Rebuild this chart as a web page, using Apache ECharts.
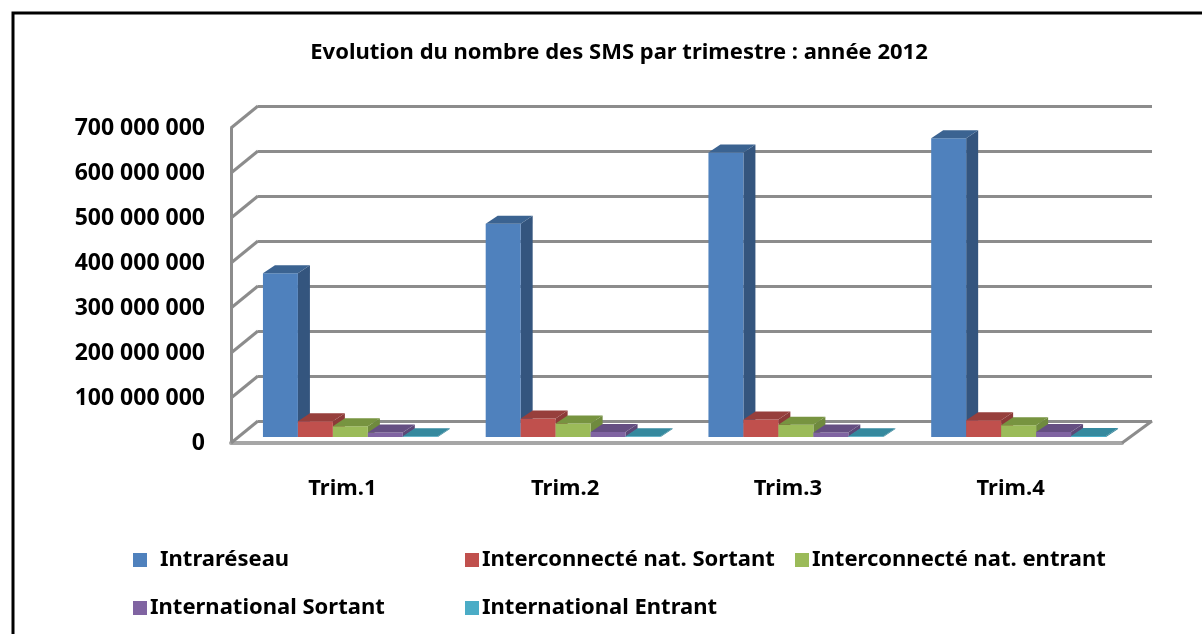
<!DOCTYPE html>
<html>
<head>
<meta charset="utf-8">
<script src="https://cdn.jsdelivr.net/npm/echarts@6/dist/echarts.min.js"></script>
<style>
  html, body { margin: 0; padding: 0; background: #fff; }
  #chart { width: 1202px; height: 634px; }
</style>
</head>
<body>
<div id="chart"></div>
<script>
// données (SMS par trimestre, 2012)
const categories = ['Trim.1', 'Trim.2', 'Trim.3', 'Trim.4'];
const intrareseau = [364000000, 474000000, 632000000, 664000000];
const interNatSortant = [35000000, 41000000, 39000000, 37000000];
const interNatEntrant = [24000000, 30000000, 27000000, 26000000];
const internationalSortant = [10000000, 11000000, 10000000, 11000000];
const internationalEntrant = [1500000, 1500000, 1500000, 2000000];
const yTicks = [0, 100000000, 200000000, 300000000, 400000000, 500000000, 600000000, 700000000];

const seriesNames = ['Intraréseau', 'Interconnecté nat. Sortant', 'Interconnecté nat. entrant',
                     'International Sortant', 'International Entrant'];
const seriesValues = [intrareseau, interNatSortant, interNatEntrant, internationalSortant, internationalEntrant];
// face avant, côté, dessus
const colors = [
    ['#4F81BD', '#34557E', '#3B6391'],
    ['#C0504D', '#8C3A38', '#973F3C'],
    ['#9BBB59', '#6F8A3E', '#779440'],
    ['#8064A2', '#5C4877', '#654F82'],
    ['#4BACC6', '#2F7F94', '#35899E']
];

const font = 'Noto Sans';
const gray = '#8c8c8c';

function fmt(v) {
    return String(v).replace(/\B(?=(\d{3})+(?!\d))/g, ' ');
}

// barre "3D" : face avant + côté + dessus
function barRender(k) {
    return function (params, api) {
        const cat = api.value(0);
        const top = api.coord([cat, api.value(1)]);
        const base = api.coord([cat, 0]);
        const band = api.size([1, 0])[0];
        const bw = band * 0.157;
        const dx = 12, dy = -8;
        const x0 = top[0] + 8 + (k - 2.5) * bw;
        const yT = top[1] - 6;
        const yB = base[1] - 6;
        return {
            type: 'group',
            children: [
                {
                    type: 'polygon',
                    shape: { points: [[x0 + bw, yT], [x0 + bw + dx, yT + dy], [x0 + bw + dx, yB + dy], [x0 + bw, yB]] },
                    style: { fill: colors[k][1] }
                },
                {
                    type: 'rect',
                    shape: { x: x0, y: yT, width: bw, height: yB - yT },
                    style: { fill: colors[k][0] }
                },
                {
                    type: 'polygon',
                    shape: { points: [[x0, yT], [x0 + dx, yT + dy], [x0 + bw + dx, yT + dy], [x0 + bw, yT]] },
                    style: { fill: colors[k][2] }
                }
            ]
        };
    };
}

// diagonales du mur gauche et du sol
function wallRender(params, api) {
    const cs = params.coordSys;
    const p = api.coord([0, api.value(1)]);
    const children = [{
        type: 'line',
        shape: { x1: cs.x, y1: p[1], x2: cs.x + 27, y2: p[1] - 22 },
        style: { stroke: gray, lineWidth: 3 }
    }];
    if (api.value(1) === 0) {
        children.push({
            type: 'line',
            shape: { x1: cs.x + cs.width, y1: p[1], x2: cs.x + cs.width + 30, y2: p[1] - 22 },
            style: { stroke: gray, lineWidth: 3 }
        });
    }
    return { type: 'group', children: children };
}

const series = [{
    type: 'custom',
    name: 'mur',
    xAxisIndex: 1,
    yAxisIndex: 1,
    renderItem: wallRender,
    data: yTicks.map(v => [0, v]),
    z: 1,
    silent: true
}];
seriesValues.forEach((vals, k) => {
    series.push({
        type: 'custom',
        name: seriesNames[k],
        xAxisIndex: 1,
        yAxisIndex: 1,
        itemStyle: { color: colors[k][0] },
        renderItem: barRender(k),
        data: vals.map((v, j) => [j, v]),
        encode: { x: 0, y: 1 },
        z: 3
    });
});

const legendPos = [[128, 544], [460, 544], [790, 544], [128, 592], [460, 592]];
const legends = seriesNames.map((n, k) => ({
    data: [n],
    left: legendPos[k][0],
    top: legendPos[k][1],
    icon: 'rect',
    itemWidth: 14,
    itemHeight: 14,
    selectedMode: false,
    textStyle: {
        fontFamily: font, fontSize: 22, fontWeight: 'bold', color: '#000',
        padding: k === 0 ? [0, 0, 0, 8] : [0, 0, 0, -2]
    }
}));

const chart = echarts.init(document.getElementById('chart'));
chart.setOption({
    animation: false,
    backgroundColor: '#fff',
    title: {
        text: 'Evolution du nombre des SMS par trimestre : année 2012',
        left: 614,
        top: 37,
        textAlign: 'center',
        textStyle: { fontFamily: font, fontSize: 22, fontWeight: 'bold', color: '#000' }
    },
    legend: legends,
    graphic: [{
        type: 'rect',
        shape: { x: 13, y: 13, width: 1200, height: 640 },
        style: { fill: 'none', stroke: '#000', lineWidth: 3 },
        z: 10
    }],
    grid: [
        { left: 258, right: 50, top: 106, bottom: 213 },   // mur du fond
        { left: 231, right: 80, top: 128, bottom: 191 }    // plan avant
    ],
    xAxis: [
        { type: 'category', gridIndex: 0, data: categories, show: false },
        {
            type: 'category', gridIndex: 1, data: categories,
            axisLine: { lineStyle: { color: '#a6a6a6', width: 4 } },
            axisTick: { show: false },
            axisLabel: { margin: 35, fontFamily: font, fontSize: 22, fontWeight: 'bold', color: '#000' }
        }
    ],
    yAxis: [
        {
            type: 'value', gridIndex: 0, min: 0, max: 700000000, interval: 100000000,
            axisLabel: { show: false },
            axisLine: { show: false },
            axisTick: { show: false },
            splitLine: { lineStyle: { color: gray, width: 3 } }
        },
        {
            type: 'value', gridIndex: 1, min: 0, max: 700000000, interval: 100000000,
            axisLine: { show: true, lineStyle: { color: gray, width: 3 } },
            axisTick: { show: false },
            splitLine: { show: false },
            axisLabel: {
                margin: 26, formatter: fmt,
                fontFamily: font, fontSize: 23, fontWeight: 'bold', color: '#000',
                padding: [4, 0, 0, 0]
            }
        }
    ],
    series: series
});
</script>
</body>
</html>
